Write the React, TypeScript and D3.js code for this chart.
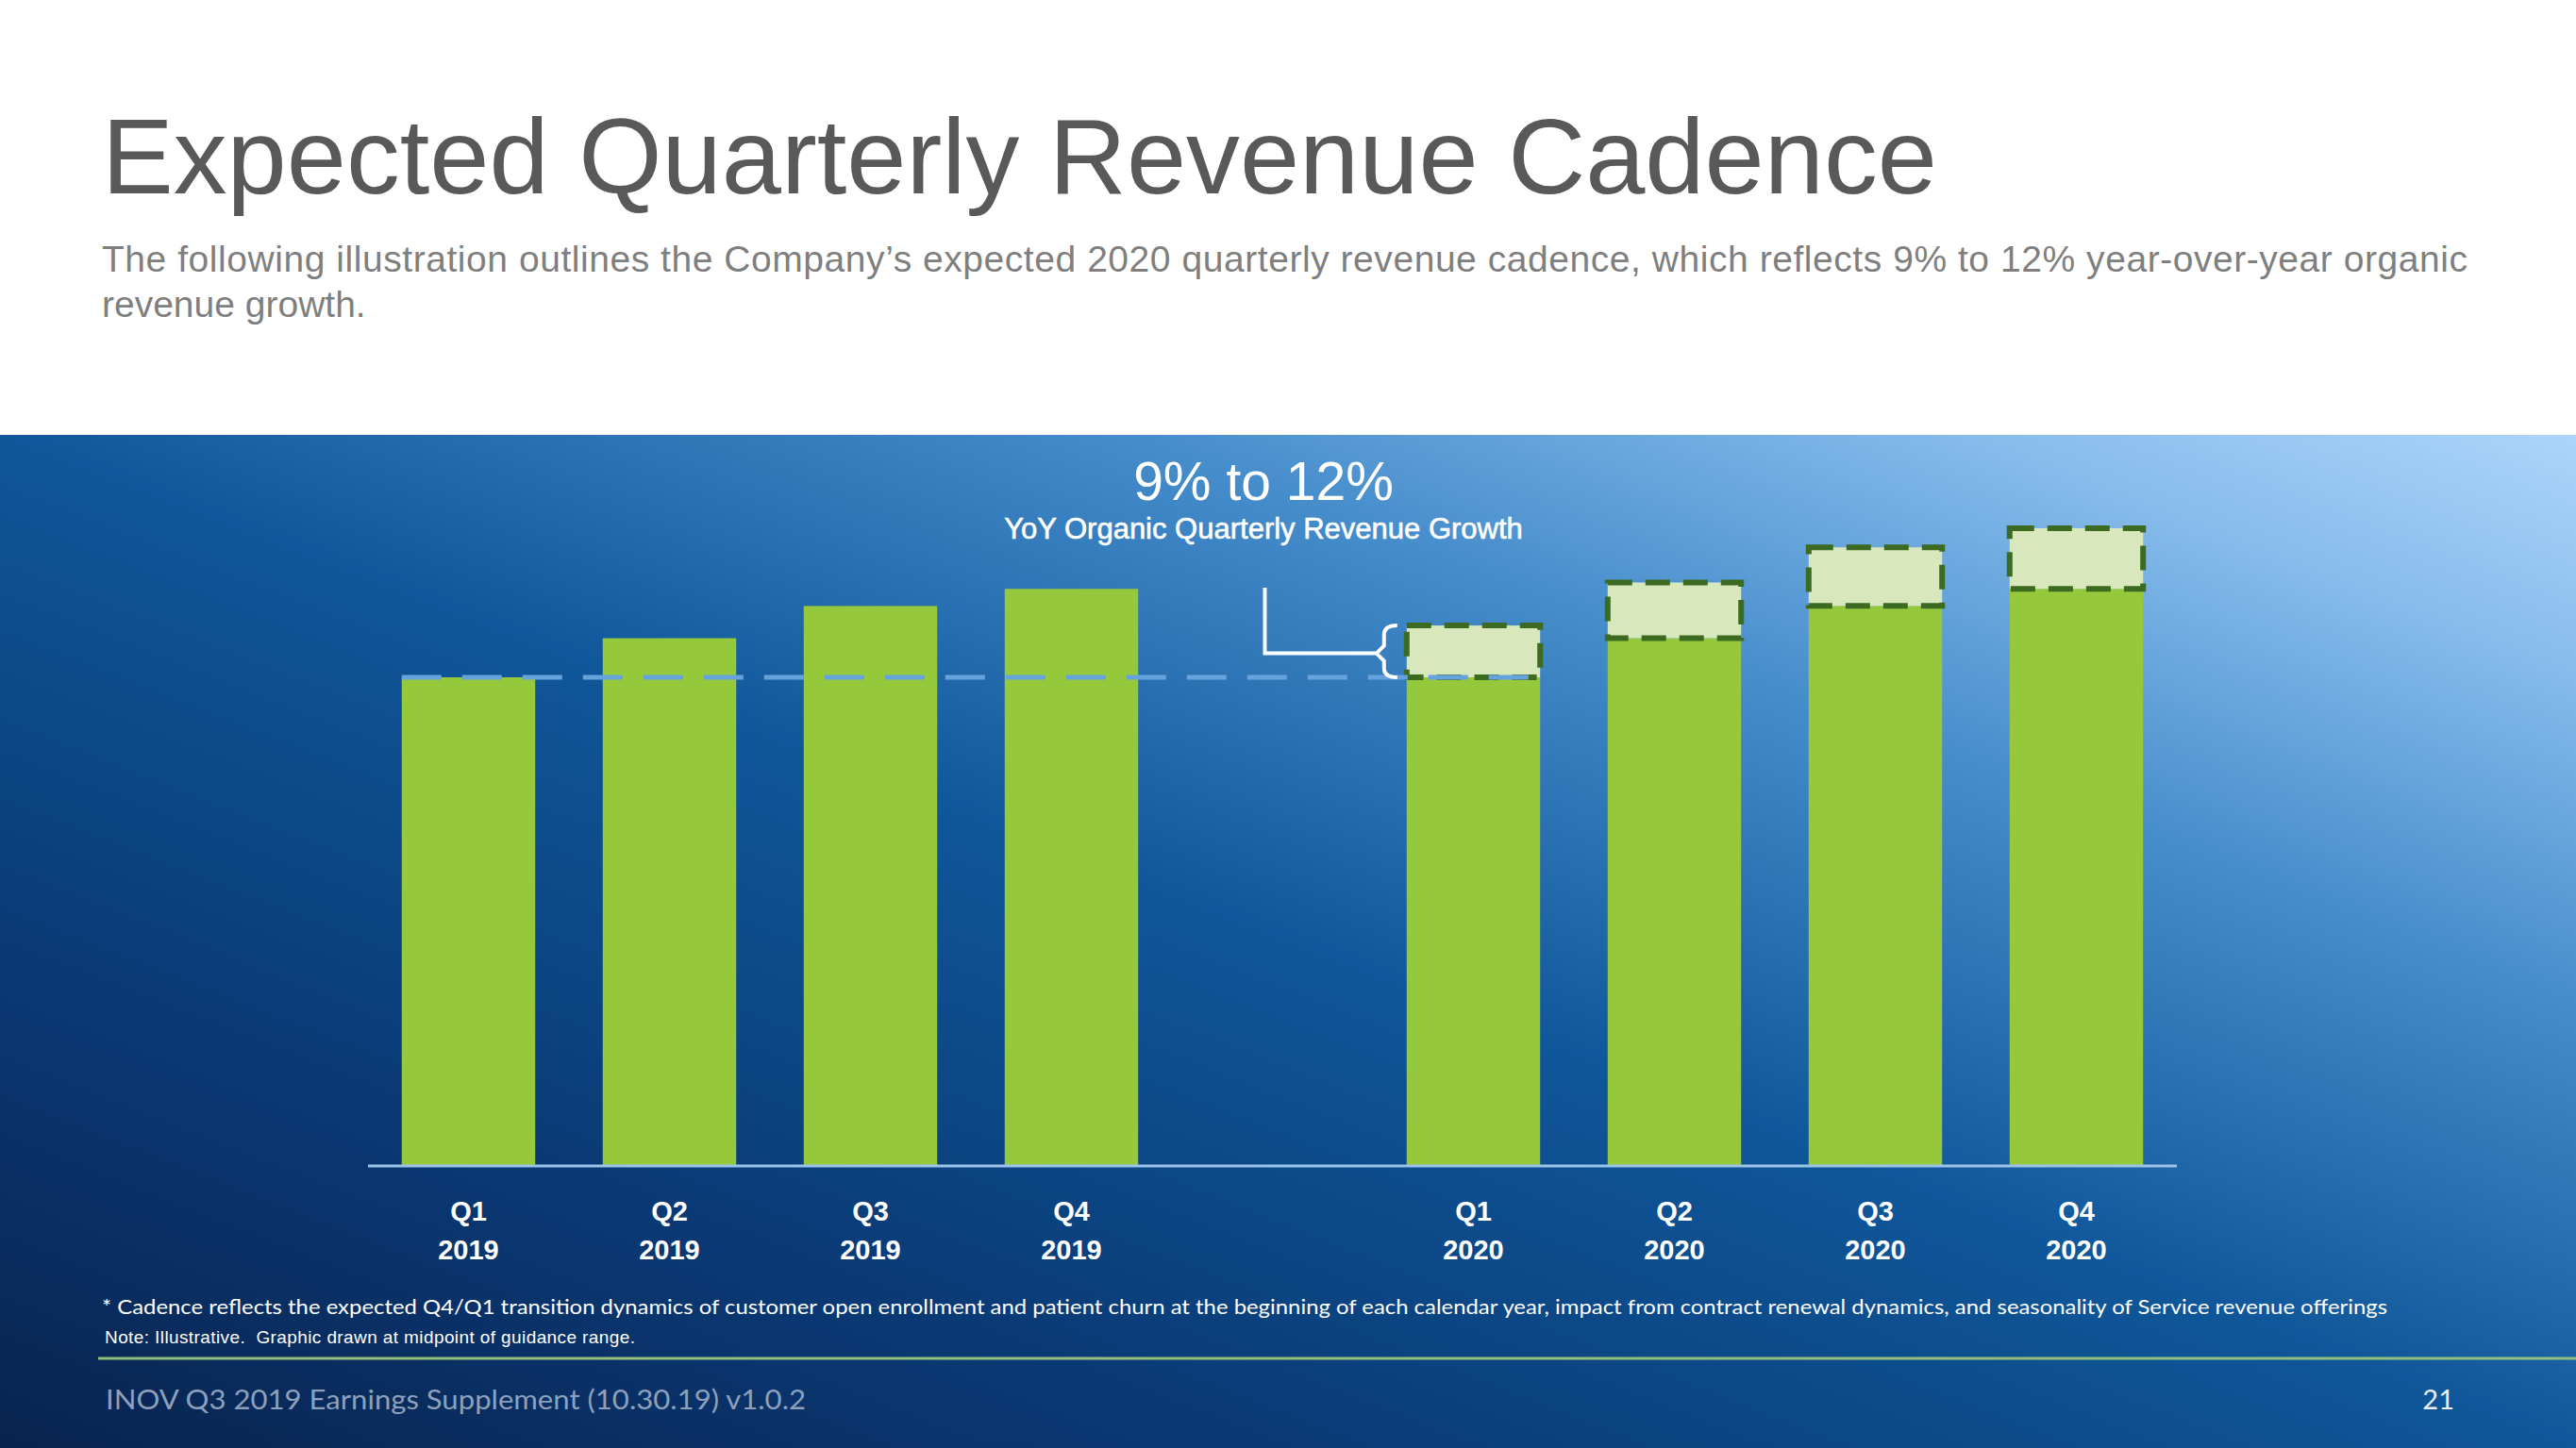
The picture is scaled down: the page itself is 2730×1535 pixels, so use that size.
import React from "react";
import * as d3 from "d3";

const quarterLabels = ["Q1", "Q2", "Q3", "Q4"];
const yearLabels = ["2019", "2020"];
const categories = ["Q1 2019", "Q2 2019", "Q3 2019", "Q4 2019", "gap", "Q1 2020", "Q2 2020", "Q3 2020", "Q4 2020"];
// illustrative index, Q1 2019 = 100
const revenue2019 = [100, 108.0, 114.6, 118.1];
const revenue2020 = [110.6, 119.4, 126.6, 130.5];

const W = 2730;
const H = 1535;
const PANEL_TOP = 461;
const BASE = 1236;

const FONT = "'Liberation Sans', Arial, sans-serif";
const FONT2 = "Lato, 'Open Sans', sans-serif";

export default function App() {
  const x = d3.scaleBand<string>().domain(categories).range([390, 2307]).paddingInner(0.336).paddingOuter(0.168);
  const y = d3.scaleLinear().domain([0, 100]).range([BASE, 718]);
  const bw = x.bandwidth();
  const [r0, r1] = x.range();

  const green = "#96c83c";
  const boxFill = "#d8e8bc";
  const boxStroke = "#3b6a20";

  const bars2019 = revenue2019.map((v, i) => ({ key: categories[i], v }));
  const bars2020 = revenue2020.map((v, i) => ({ key: categories[i + 5], base: revenue2019[i], v }));

  // bracket
  const stemX = (x("gap") as number) + bw / 2 - 8;
  const q1x = x("Q1 2020") as number;
  const bTop = y(revenue2020[0]);
  const bBot = y(revenue2019[0]);
  const bMid = (bTop + bBot) / 2 + 2;
  const braceX = q1x - 24;
  const bracePath =
    `M${stemX},623 L${stemX},${bMid} L${braceX - 8},${bMid} ` +
    `M${braceX + 14},${bTop} Q${braceX},${bTop} ${braceX},${bTop + 10} L${braceX},${bMid - 8} L${braceX - 8},${bMid} L${braceX},${bMid + 8} L${braceX},${bBot - 10} Q${braceX},${bBot} ${braceX + 14},${bBot}`;

  return (
    <svg width={W} height={H} style={{ position: "absolute", left: 0, top: 0, display: "block" }}>
      <defs>
        <linearGradient id="bg" x1="0" y1="1" x2="1" y2="0">
          <stop offset="0" stopColor="#09234f" />
          <stop offset="0.25" stopColor="#0a3a76" />
          <stop offset="0.5" stopColor="#0f579a" />
          <stop offset="0.72" stopColor="#468dcc" />
          <stop offset="0.88" stopColor="#86bbeb" />
          <stop offset="1" stopColor="#acd5fb" />
        </linearGradient>
      </defs>
      <rect x={0} y={0} width={W} height={H} fill="#ffffff" />
      <text x={108} y={205} fontFamily={FONT} fontSize={113.6} fill="#595959">
        Expected Quarterly Revenue Cadence
      </text>
      <text x={108} y={288} fontFamily={FONT} fontSize={39} fill="#7f7f7f" textLength={2507} lengthAdjust="spacing">
        The following illustration outlines the Company’s expected 2020 quarterly revenue cadence, which reflects 9% to 12% year-over-year organic
      </text>
      <text x={108} y={336} fontFamily={FONT} fontSize={39} fill="#7f7f7f">
        revenue growth.
      </text>

      <rect x={0} y={PANEL_TOP} width={W} height={H - PANEL_TOP} fill="url(#bg)" />

      <text x={1339} y={530} textAnchor="middle" fontFamily={FONT} fontSize={57} fill="#ffffff">
        9% to 12%
      </text>
      <text x={1339} y={571} textAnchor="middle" fontFamily={FONT} fontSize={31} fill="#ffffff" stroke="#ffffff" strokeWidth={0.6}>
        YoY Organic Quarterly Revenue Growth
      </text>

      {bars2019.map((d) => (
        <rect key={d.key} x={x(d.key)} y={y(d.v)} width={bw} height={BASE - y(d.v)} fill={green} />
      ))}
      {bars2020.map((d) => (
        <g key={d.key}>
          <rect x={x(d.key)} y={y(d.base)} width={bw} height={BASE - y(d.base)} fill={green} />
          <rect
            x={x(d.key)}
            y={y(d.v)}
            width={bw}
            height={y(d.base) - y(d.v)}
            fill={boxFill}
            stroke={boxStroke}
            strokeWidth={6}
            strokeDasharray="26 14"
          />
        </g>
      ))}

      <line
        x1={x("Q1 2019")}
        x2={q1x + bw}
        y1={y(revenue2019[0])}
        y2={y(revenue2019[0])}
        stroke="#66a3dc"
        strokeWidth={5}
        strokeDasharray="42 22"
      />

      <path d={bracePath} fill="none" stroke="#ffffff" strokeWidth={4} strokeLinejoin="miter" />

      <line x1={r0} x2={r1} y1={BASE} y2={BASE} stroke="#9cc3ea" strokeWidth={3} />

      {categories.filter((c) => c !== "gap").map((c, i) => {
        const cx = (x(c) as number) + bw / 2;
        return (
          <g key={c} fontFamily={FONT} fontWeight="bold" fontSize={29} fill="#ffffff" textAnchor="middle">
            <text x={cx} y={1294}>{quarterLabels[i % 4]}</text>
            <text x={cx} y={1335}>{yearLabels[Math.floor(i / 4)]}</text>
          </g>
        );
      })}

      <text x={108} y={1393} fontFamily={FONT2} fontSize={22} fill="#ffffff" textLength={2422} lengthAdjust="spacingAndGlyphs">
        * Cadence reflects the expected Q4/Q1 transition dynamics of customer open enrollment and patient churn at the beginning of each calendar year, impact from contract renewal dynamics, and seasonality of Service revenue offerings
      </text>
      <text x={111} y={1424} fontFamily={FONT} fontSize={19} fill="#ffffff" textLength={562} lengthAdjust="spacing" style={{ whiteSpace: "pre" }}>
        {"Note: Illustrative.  Graphic drawn at midpoint of guidance range."}
      </text>
      <line x1={104} x2={W} y1={1440} y2={1440} stroke="#93bf7c" strokeWidth={3} />
      <text x={112} y={1494} fontFamily={FONT2} fontSize={29} fill="#8da0bc" textLength={742} lengthAdjust="spacingAndGlyphs">
        INOV Q3 2019 Earnings Supplement (10.30.19) v1.0.2
      </text>
      <text x={2601} y={1494} textAnchor="end" fontFamily={FONT2} fontSize={29} fill="#e8eef6">
        21
      </text>
    </svg>
  );
}
